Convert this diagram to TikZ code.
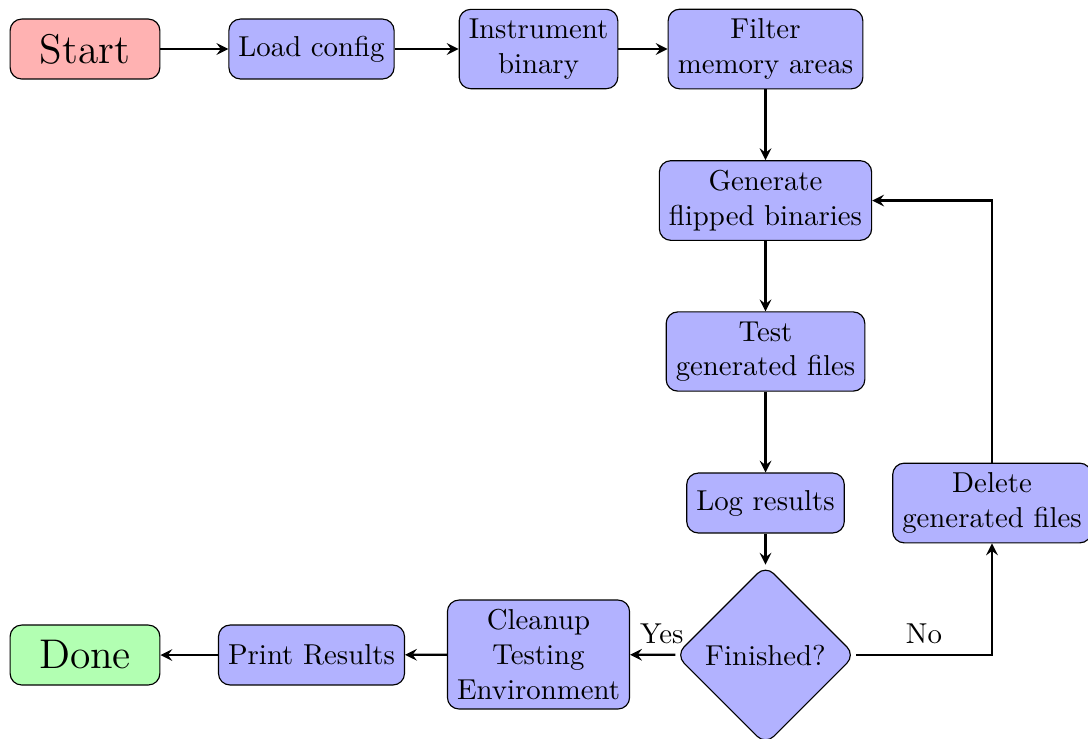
\documentclass[tikz,border=0pt]{standalone}
\usetikzlibrary{shapes.geometric,arrows}
\begin{document}
\begin{tikzpicture}[x=0.3472pt,y=-0.3472pt,
  box/.style={draw=black, rounded corners, align=center, minimum height=20.8pt, fill=blue!30},
  startstop/.style={box, minimum width=52pt, font=\Large},
  decision/.style={diamond, draw=black, rounded corners, align=center, fill=blue!30},
  arrow/.style={thick, ->, >=stealth}]
\useasboundingbox (0,0) rectangle (1088,738);

\node[startstop, fill=red!30] (start) at (85,49) {Start};
\node[box] (load) at (311.5,49) {Load config};
\node[box] (instr) at (538.5,49) {Instrument\\binary};
\node[box] (filter) at (765.5,49) {Filter\\memory areas};
\node[box] (gen) at (765.5,200.5) {Generate\\flipped binaries};
\node[box] (test) at (765.5,351.5) {Test\\generated files};
\node[box] (log) at (765.5,503) {Log results};
\node[decision] (dec) at (765.5,655) {Finished?};
\node[box] (del) at (992,503) {Delete\\generated files};
\node[box] (clean) at (538.5,654.5) {Cleanup\\Testing\\Environment};
\node[box] (print) at (311.5,655) {Print Results};
\node[startstop, fill=green!30] (done) at (85,655) {Done};

\draw[arrow] (start) -- (load);
\draw[arrow] (load) -- (instr);
\draw[arrow] (instr) -- (filter);
\draw[arrow] (filter) -- (gen);
\draw[arrow] (gen) -- (test);
\draw[arrow] (test) -- (log);
\draw[arrow] (log) -- (dec);
\draw[arrow] (dec) -- node[above, pos=0.3] {Yes} (clean);
\draw[arrow] (dec.east) -| node[above, pos=0.25] {No} (del.south);
\draw[arrow] (del.north) |- (gen.east);
\draw[arrow] (clean) -- (print);
\draw[arrow] (print) -- (done);
\end{tikzpicture}
\end{document}
